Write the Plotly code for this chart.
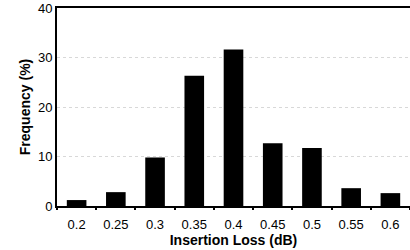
import plotly.graph_objects as go

categories = ["0.2", "0.25", "0.3", "0.35", "0.4", "0.45", "0.5", "0.55", "0.6"]
frequency = [1.2, 2.8, 9.8, 26.3, 31.6, 12.7, 11.7, 3.6, 2.6]
y_ticks = [0, 10, 20, 30, 40]

fig = go.Figure(go.Bar(x=categories, y=frequency, marker=dict(color="black", line=dict(width=0)), width=0.5))

fig.update_layout(
    width=410, height=250,
    margin=dict(l=57, r=0, t=8, b=44),
    paper_bgcolor="white", plot_bgcolor="white",
    font=dict(family="Liberation Sans, Arial, sans-serif", color="black", size=12),
    showlegend=False,
)
fig.update_xaxes(
    type="category", showline=True, linecolor="black", linewidth=2, mirror=True,
    ticks="outside", tickson="boundaries", ticklen=2, tickwidth=2, tickcolor="black",
    ticklabelstandoff=5,
    showgrid=False, tickfont=dict(size=13), automargin=False,
    title=dict(text="<b>Insertion Loss (dB)</b>", font=dict(size=14), standoff=0),
)
fig.update_yaxes(
    range=[0, 40], tickvals=y_ticks, showline=True, linecolor="black", linewidth=2,
    ticks="", showgrid=True, gridcolor="#d8d8d8", griddash="dot", gridwidth=1,
    zeroline=False, tickfont=dict(size=13), automargin=False, ticklabeloverflow="allow",
    title=dict(text="<b>Frequency (%)</b>", font=dict(size=14), standoff=4),
)
fig.write_html("out.html", config={"displayModeBar": False},
               post_script="document.body.style.margin='0';document.body.style.overflow='hidden';")
